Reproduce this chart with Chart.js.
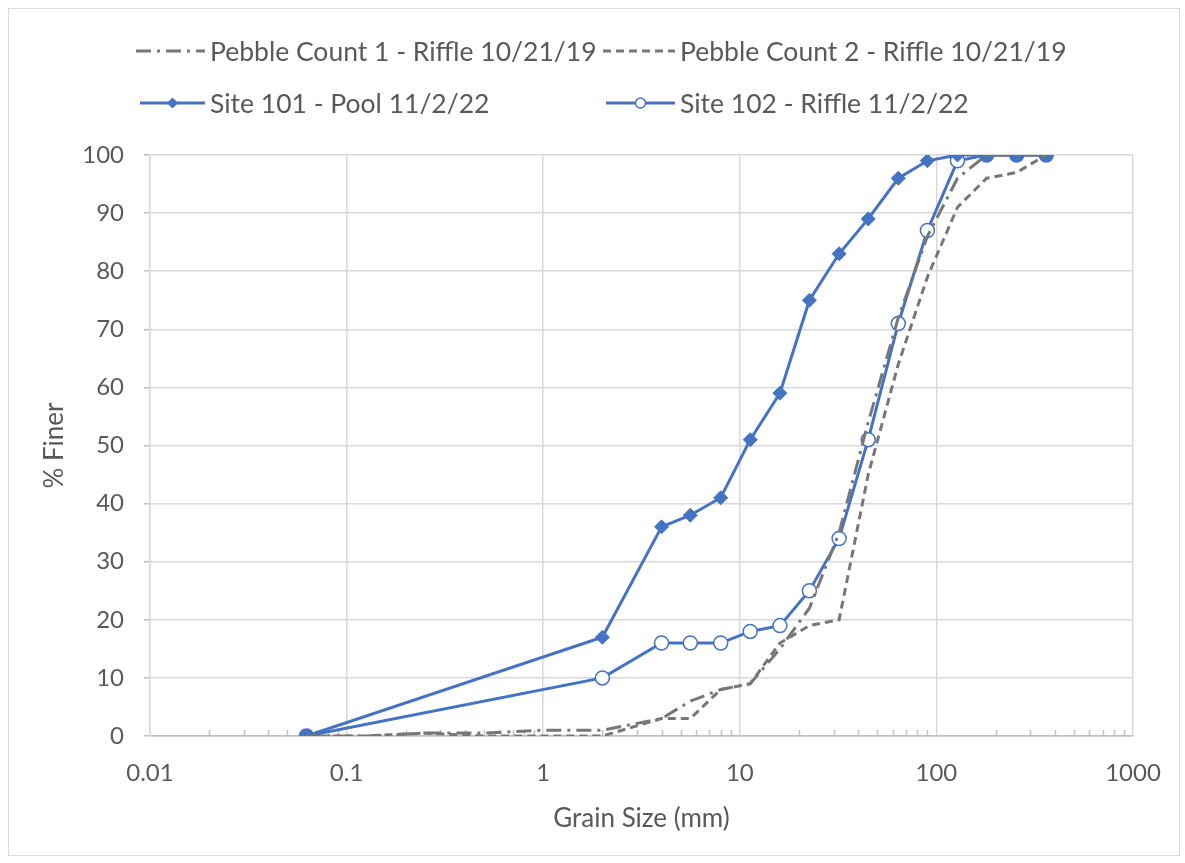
<!DOCTYPE html>
<html><head><meta charset="utf-8">
<script src="https://cdn.jsdelivr.net/npm/chart.js@4/dist/chart.umd.min.js"></script>
<style>
html,body{margin:0;padding:0;background:#fff;}
#wrap{position:relative;width:1185px;height:863px;overflow:hidden;}
#frame{position:absolute;left:8px;top:8px;width:1170px;height:846px;border:1px solid #d9d9d9;}
canvas{position:absolute;left:0;top:0;}
</style></head><body>
<div id="wrap"><div id="frame"></div><canvas id="c" width="1185" height="863"></canvas></div>
<script>
// ---- data ----
const seriesLabels = ['Pebble Count 1 - Riffle 10/21/19','Pebble Count 2 - Riffle 10/21/19','Site 101 - Pool 11/2/22','Site 102 - Riffle 11/2/22'];
const pebbleSizes = [0.0625,0.125,0.25,0.5,1,2,4,5.6,8,11.3,16,22.6,32,45,64,90,128,180,256,362];
const pebble1 = [0,0,0.5,0.5,1,1,3,6,8,9,15,22,35,54,72,86,96,100,100,100];
const pebble2 = [0,0,0.5,0,0,0,3,3,8,9,16,19,20,45,64,79,91,96,97,100];
const siteSizes = [0.0625,2,4,5.6,8,11.3,16,22.6,32,45,64,90,128,180,256,362];
const site101 = [0,17,36,38,41,51,59,75,83,89,96,99,100,100,100,100];
const site102 = [0,10,16,16,16,18,19,25,34,51,71,87,99,100,100,100];
const xTickValues = [0.01,0.1,1,10,100,1000];
const xTickLabels = ['0.01','0.1','1','10','100','1000'];
const yTickLabels = ['0','10','20','30','40','50','60','70','80','90','100'];

const pts = (xs, ys) => xs.map((x,i)=>({x:x, y:ys[i]}));
const BLUE = '#4472c4', GRAY = '#777777', TXT = '#595959';
const FONT = 'Lato';

function coincident(c){
  const r = c.raw; if(!r) return false;
  const i = siteSizes.indexOf(r.x);
  return i >= 0 && site101[i] === r.y;
}

const minorTicks = {
  id:'minorTicks',
  beforeDatasetsDraw(chart){
    const xs = chart.scales.x, ctx = chart.ctx, b = chart.chartArea.bottom;
    ctx.save(); ctx.strokeStyle = '#bfbfbf'; ctx.lineWidth = 1.5;
    for (let d = 0.01; d < 999; d *= 10){
      for (let k = 2; k <= 9; k++){
        const px = Math.round(xs.getPixelForValue(k*d)) + 0.5;
        ctx.beginPath(); ctx.moveTo(px, b); ctx.lineTo(px, b-6); ctx.stroke();
      }
    }
    ctx.restore();
  }
};

const legendSlots = [
  {x0:136,x1:205,tx:210,y:51},
  {x0:603,x1:675,tx:680,y:51},
  {x0:140,x1:205,tx:210,y:103},
  {x0:606,x1:675,tx:680,y:103}
];
const customLegend = {
  id:'customLegend',
  afterDraw(chart){
    const ctx = chart.ctx;
    chart.data.datasets.forEach((ds,i)=>{
      const s = legendSlots[i];
      ctx.save();
      ctx.strokeStyle = ds.borderColor; ctx.lineWidth = ds.borderWidth;
      ctx.setLineDash(ds.borderDash || []);
      ctx.beginPath(); ctx.moveTo(s.x0, s.y); ctx.lineTo(s.x1, s.y); ctx.stroke();
      ctx.setLineDash([]);
      if (ds.pointRadius > 0){
        ctx.fillStyle = ds.legendPointFill || ds.borderColor;
        ctx.strokeStyle = ds.borderColor; ctx.lineWidth = ds.pointBorderWidth || 1;
        Chart.helpers.drawPoint(ctx, {pointStyle: ds.pointStyle, radius: ds.pointRadius-2, borderWidth: ds.pointBorderWidth||1, rotation:0}, (s.x0+s.x1)/2, s.y);
      }
      ctx.fillStyle = TXT; ctx.font = '26.5px ' + FONT; ctx.textBaseline = 'middle'; ctx.textAlign='left';
      ctx.fillText(ds.label, s.tx, s.y+1);
      ctx.restore();
    });
  }
};

new Chart(document.getElementById('c'), {
  type:'line',
  data:{ datasets:[
    {label:seriesLabels[0], data:pts(pebbleSizes,pebble1), borderColor:GRAY, borderWidth:3, borderDash:[15,6,3,6], pointRadius:0, fill:false, tension:0},
    {label:seriesLabels[1], data:pts(pebbleSizes,pebble2), borderColor:GRAY, borderWidth:3, borderDash:[8,5], pointRadius:0, fill:false, tension:0},
    {label:seriesLabels[2], data:pts(siteSizes,site101), borderColor:BLUE, borderWidth:3, pointStyle:'rectRot', pointRadius:7, pointBorderWidth:1, pointBackgroundColor:BLUE, pointBorderColor:BLUE, fill:false, tension:0},
    {label:seriesLabels[3], data:pts(siteSizes,site102), borderColor:BLUE, borderWidth:3, pointStyle:'circle', pointRadius:7, pointBorderWidth:1.5, pointBackgroundColor:(c)=>coincident(c)?BLUE:'#ffffff', legendPointFill:'#ffffff', pointBorderColor:BLUE, fill:false, tension:0}
  ]},
  options:{
    responsive:false, animation:false,
    layout:{padding:{left:0,right:52,top:155,bottom:0}},
    plugins:{legend:{display:false}, tooltip:{enabled:false}},
    scales:{
      x:{type:'logarithmic', position:'bottom', min:0.01, max:1000,
        afterBuildTicks:(s)=>{ s.ticks = xTickValues.map(v=>({value:v})); },
        afterFit:(s)=>{ s.height = 127; },
        ticks:{autoSkip:false, maxRotation:0, color:TXT, font:{family:FONT,size:24}, padding:23,
          callback:(v,i)=>xTickLabels[i]},
        grid:{color:'#d9d9d9', lineWidth:1.5, drawTicks:false},
        border:{color:'#bfbfbf', width:1.5},
        title:{display:true, text:'Grain Size (mm)', color:TXT, font:{family:FONT,size:26}, padding:{top:0,bottom:29}}
      },
      y:{min:0, max:100,
        afterBuildTicks:(s)=>{ s.ticks = yTickLabels.map(v=>({value:Number(v)})); },
        afterFit:(s)=>{ s.width = 150; },
        ticks:{color:TXT, font:{family:FONT,size:24}, padding:20, callback:(v,i)=>yTickLabels[i]},
        grid:{color:'#d9d9d9', lineWidth:1.5, tickLength:6, tickColor:'#bfbfbf'},
        border:{color:'#d9d9d9', width:1.5},
        title:{display:true, text:'% Finer', color:TXT, font:{family:FONT,size:26}, padding:{top:39,bottom:0}}
      }
    }
  },
  plugins:[minorTicks, customLegend]
});
</script>
</body></html>
